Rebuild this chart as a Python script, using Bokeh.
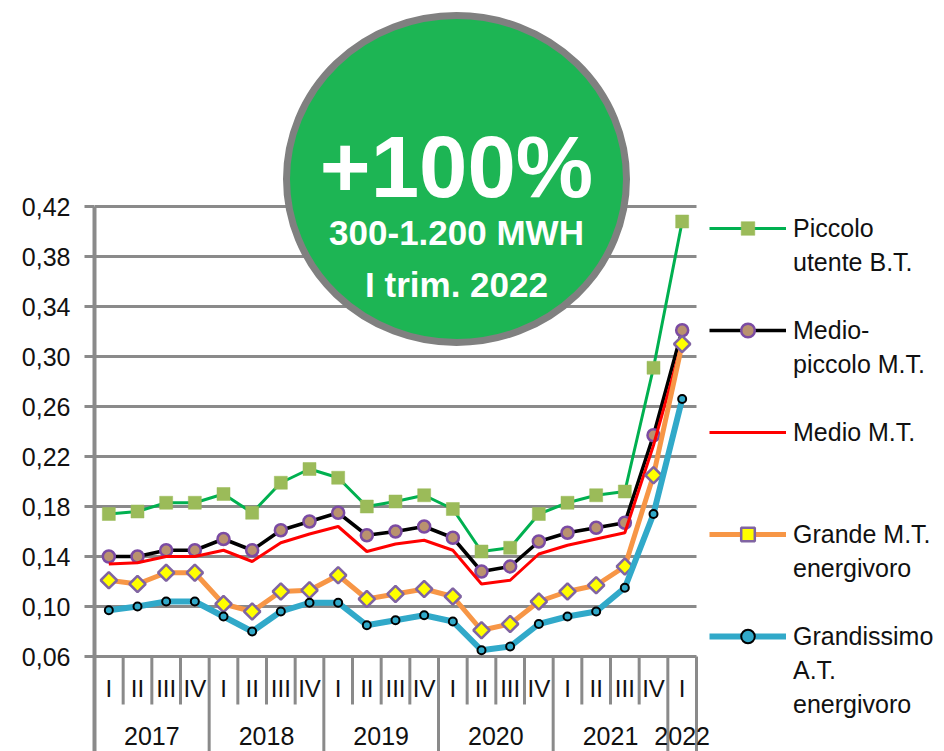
from bokeh.plotting import figure
from bokeh.models import (ColumnDataSource, FixedTicker, CustomJSTickFormatter,
                          Legend, LegendItem, LabelSet, Label, Range1d)
from bokeh.core.properties import value
from bokeh.embed import file_html
from bokeh.resources import INLINE

# ---------------- data ----------------
years = ["2017"] * 4 + ["2018"] * 4 + ["2019"] * 4 + ["2020"] * 4 + ["2021"] * 4 + ["2022"]
quarters = ["I", "II", "III", "IV"] * 5 + ["I"]
y_ticks = [0.06, 0.10, 0.14, 0.18, 0.22, 0.26, 0.30, 0.34, 0.38, 0.42]

piccolo = [0.174, 0.176, 0.183, 0.183, 0.190, 0.175, 0.199, 0.210, 0.203, 0.180, 0.184,
           0.189, 0.178, 0.144, 0.147, 0.174, 0.183, 0.189, 0.192, 0.291, 0.408]
medio_piccolo = [0.140, 0.140, 0.145, 0.145, 0.154, 0.145, 0.161, 0.168, 0.175, 0.157, 0.160,
                 0.164, 0.155, 0.128, 0.132, 0.152, 0.159, 0.163, 0.167, 0.237, 0.321]
medio = [0.134, 0.135, 0.140, 0.140, 0.145, 0.136, 0.151, 0.158, 0.164, 0.144, 0.150,
         0.153, 0.145, 0.118, 0.121, 0.142, 0.149, 0.154, 0.159, 0.229, 0.311]
grande = [0.121, 0.118, 0.127, 0.127, 0.102, 0.096, 0.112, 0.113, 0.125, 0.106, 0.110,
          0.114, 0.108, 0.081, 0.086, 0.104, 0.112, 0.117, 0.132, 0.205, 0.310]
grandissimo = [0.097, 0.100, 0.104, 0.104, 0.092, 0.080, 0.096, 0.103, 0.103, 0.085, 0.089,
               0.093, 0.088, 0.065, 0.068, 0.086, 0.092, 0.096, 0.115, 0.174, 0.266]

legend_rows = [
    ("Piccolo", "piccolo"), ("utente B.T.", None), (" ", None),
    ("Medio-", "medio_piccolo"), ("piccolo M.T.", None), (" ", None),
    ("Medio M.T.", "medio"), (" ", None), (" ", None),
    ("Grande M.T.", "grande"), ("energivoro", None), (" ", None),
    ("Grandissimo", "grandissimo"), ("A.T.", None), ("energivoro", None),
]

badge_title = "+100%"
badge_line1 = "300-1.200 MWH"
badge_line2 = "I trim. 2022"

# ---------------- layout ----------------
FONT = "Liberation Sans"
GRAY = "#8a8a8a"
TXT = "#111111"
W, H = 944, 751
FL = 94                     # frame left (px)
PLOT_W = 602                # width of the category area (px)
PX = 1250.0                 # pixels per data unit (y)
Y_TOP = 0.42 + 206 / PX
Y_BOT = Y_TOP - H / PX
n = len(quarters)
CW = PLOT_W / n
X_END = -0.5 + (W - FL) / CW


def xd(fx):
    return -0.5 + (fx - FL) / CW


def yd(fy):
    return Y_TOP - fy / PX


p = figure(width=W, height=H, x_range=Range1d(-0.5, X_END), y_range=Range1d(Y_BOT, Y_TOP),
           output_backend="svg", toolbar_location=None, x_axis_location=None,
           min_border_left=FL, min_border_right=0, min_border_top=0, min_border_bottom=0)
p.outline_line_color = None
p.background_fill_color = "white"
p.xgrid.grid_line_color = None
p.ygrid.grid_line_color = None

ax = p.yaxis[0]
ax.ticker = FixedTicker(ticks=y_ticks)
ax.formatter = CustomJSTickFormatter(code="return tick.toFixed(2).replace('.', ',')")
ax.bounds = (Y_BOT, 0.42)
ax.axis_line_color = GRAY
ax.axis_line_width = 4
ax.major_tick_out = 10
ax.major_tick_in = 0
ax.major_tick_line_color = GRAY
ax.major_tick_line_width = 3
ax.minor_tick_line_color = None
ax.major_label_standoff = 14
ax.major_label_text_font = FONT
ax.major_label_text_font_size = "25px"
ax.major_label_text_color = TXT

# horizontal grid lines across the category area, at the y tick values
nt = len(y_ticks)
p.segment(x0=[-0.5] * nt, y0=y_ticks, x1=[n - 0.5] * nt, y1=y_ticks,
          line_color=GRAY, line_width=2.8)

# category separators
sep_x = [k - 0.5 for k in range(1, n + 1)]
sep_long = [k == n or years[k] != years[k - 1] for k in range(1, n + 1)]
sep_y1 = [Y_BOT if lg else yd(704) for lg in sep_long]
p.segment(x0=sep_x, y0=[0.06] * n, x1=sep_x, y1=sep_y1, line_color=GRAY, line_width=3)

# category labels
qsrc = ColumnDataSource(dict(x=list(range(n)), text=quarters))
p.add_layout(LabelSet(x="x", y=yd(696), text="text", source=qsrc, text_align="center",
                      text_baseline="alphabetic", text_font=value(FONT),
                      text_font_size=value("24px"), text_color=value(TXT)))
uy = []
for yv in years:
    if yv not in uy:
        uy.append(yv)
ycent = [sum(i for i in range(n) if years[i] == yv) / years.count(yv) for yv in uy]
ysrc = ColumnDataSource(dict(x=ycent, text=uy))
p.add_layout(LabelSet(x="x", y=yd(744), text="text", source=ysrc, text_align="center",
                      text_baseline="alphabetic", text_font=value(FONT),
                      text_font_size=value("25px"), text_color=value(TXT)))

# series
src = ColumnDataSource(dict(x=list(range(n)), piccolo=piccolo, medio_piccolo=medio_piccolo,
                            medio=medio, grande=grande, grandissimo=grandissimo))
rends = {}
l1 = p.line("x", "piccolo", source=src, line_color="#00b050", line_width=3)
m1 = p.scatter("x", "piccolo", source=src, marker="square", size=13, fill_color="#9bbb59",
               line_color="#9bbb59", line_width=0.5)
rends["piccolo"] = [l1, m1]
l2 = p.line("x", "medio_piccolo", source=src, line_color="#000000", line_width=3.5)
m2 = p.scatter("x", "medio_piccolo", source=src, marker="circle", size=12, fill_color="#b9926f",
               line_color="#7b4ba3", line_width=2.5)
rends["medio_piccolo"] = [l2, m2]
l3 = p.line("x", "medio", source=src, line_color="#ff0000", line_width=3)
rends["medio"] = [l3]
l4 = p.line("x", "grande", source=src, line_color="#f79646", line_width=5)
m4 = p.scatter("x", "grande", source=src, marker="square", angle=0.785398, size=11.5,
               fill_color="#ffff00", line_color="#8064a2", line_width=2.5)
rends["grande"] = [l4, m4]
l5 = p.line("x", "grandissimo", source=src, line_color="#31a9c9", line_width=6)
m5 = p.scatter("x", "grandissimo", source=src, marker="circle", size=8, fill_color="#31a9c9",
               line_color="#000000", line_width=2)
rends["grandissimo"] = [l5, m5]

# badge
bx, by = xd(456), yd(178.5)
p.ellipse(x=[bx], y=[by], width=340, height=327, width_units="screen", height_units="screen",
          fill_color="#1db554", line_color="#808080", line_width=7)
p.add_layout(Label(x=bx, y=yd(166), text=badge_title, text_align="center",
                   text_baseline="alphabetic", text_font=FONT, text_font_size="87px",
                   text_font_style="bold", text_color="white"))
p.add_layout(Label(x=bx, y=yd(232), text=badge_line1, text_align="center",
                   text_baseline="alphabetic", text_font=FONT, text_font_size="35px",
                   text_font_style="bold", text_color="white"))
p.add_layout(Label(x=bx, y=yd(284), text=badge_line2, text_align="center",
                   text_baseline="alphabetic", text_font=FONT, text_font_size="35px",
                   text_font_style="bold", text_color="white"))

# legend (inside the frame, to the right of the category area)
items = [LegendItem(label=value(t), renderers=(rends[k] if k else [])) for t, k in legend_rows]
legend = Legend(items=items, location=(709 - FL, H - (211 + 34 * len(legend_rows))),
                margin=0, padding=0, spacing=0,
                glyph_width=77, glyph_height=34, label_height=34, label_standoff=7,
                label_text_font=FONT, label_text_font_size="25px", label_text_color=TXT,
                border_line_color=None, background_fill_alpha=0)
p.add_layout(legend)

open("out.html", "w").write(file_html(p, INLINE))
